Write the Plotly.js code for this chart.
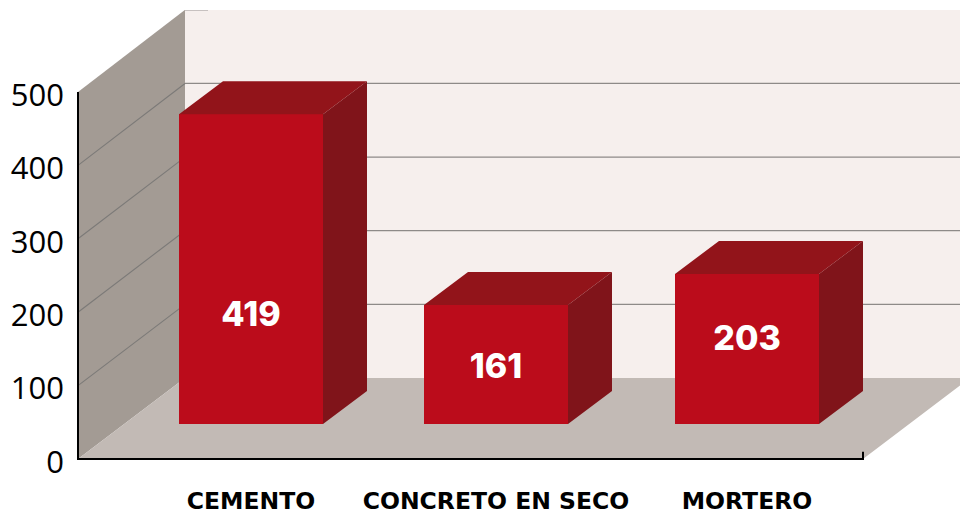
<!DOCTYPE html>
<html>
<head>
<meta charset="utf-8">
<script src="https://cdn.plot.ly/plotly-3.0.1.min.js"></script>
<style>html,body{margin:0;padding:0;background:#fff}</style>
</head>
<body>
<div id="chart" style="width:960px;height:510px"></div>
<script>
// Data
const categories = ["CEMENTO", "CONCRETO EN SECO", "MORTERO"];
const values = [419, 161, 203];
const yTicks = [0, 100, 200, 300, 400, 500];

// Layout constants (x axis is in px-sized units from the origin)
const barCentres = [173, 418, 669];
const barWidth = 144;
const labelHeights = [144, 74, 111];   // vertical place of each value label, bar scale
const barDepthX = 44, barDepthY = 44.65;
const wallDepthX = 107, wallDepthY = 110.4, backScale = 1.003;
const axisEnd = 785, floorRight = 900;

const C = {wall:"#f6efed", side:"#a39b94", floor:"#c2bab5", grid:"#8e8a88", sideGrid:"#7c7a78",
           front:"#bb0c1b", top:"#92141a", right:"#80141a", axis:"#000000"};

const poly = pts => "M" + pts.map(p => p[0] + "," + p[1]).join(" L") + " Z";
const backY = v => v * backScale + wallDepthY;
const wallTop = backY(500);

const shapes = [];
const addPoly = (pts, color) => shapes.push({type:"path", xref:"x", yref:"y", layer:"below",
  path: poly(pts), fillcolor: color, line:{width:0}});
const addLine = (x0, y0, x1, y1, color, w) => shapes.push({type:"line", xref:"x", yref:"y", layer:"below",
  x0, y0, x1, y1, line:{color, width:w}});

addPoly([[wallDepthX, backY(0)], [floorRight, backY(0)], [floorRight, wallTop], [wallDepthX, wallTop]], C.wall);
addPoly([[0, 0], [wallDepthX, backY(0)], [wallDepthX, wallTop], [0, 500]], C.side);
addPoly([[0, 0], [wallDepthX, backY(0)], [floorRight, backY(0)], [axisEnd + wallDepthX, backY(0)], [axisEnd, 0]], C.floor);
yTicks.slice(1, 5).forEach(v => {
  addLine(0, v, wallDepthX, backY(v), C.sideGrid, 1.1);
  addLine(wallDepthX, backY(v), floorRight, backY(v), C.grid, 1.2);
});
addLine(wallDepthX, wallTop, wallDepthX + 23, wallTop, C.grid, 1.2);
addLine(0, 0, 0, 500, C.axis, 2);
addLine(-1, 0, axisEnd + 1, 0, C.axis, 2);
addLine(axisEnd, 0, axisEnd, 10, C.axis, 2);

// 3D faces computed from the values
const topX = [], topY = [], sideX = [], sideY = [];
values.forEach((v, i) => {
  const l = barCentres[i] - barWidth / 2, r = barCentres[i] + barWidth / 2;
  topX.push(l, r, r + barDepthX, l + barDepthX, l, null);
  topY.push(v, v, v + barDepthY, v + barDepthY, v, null);
  sideX.push(r, r + barDepthX, r + barDepthX, r, r, null);
  sideY.push(0, barDepthY, v + barDepthY, v, 0, null);
});

const traces = [
  {type:"bar", x:barCentres, y:values, width:barWidth, yaxis:"y2", marker:{color:C.front, line:{width:0}},
   hoverinfo:"skip", showlegend:false},
  {type:"scatter", mode:"lines", x:topX, y:topY, yaxis:"y2", fill:"toself", fillcolor:C.top,
   line:{width:0, color:C.top}, hoverinfo:"skip", showlegend:false},
  {type:"scatter", mode:"lines", x:sideX, y:sideY, yaxis:"y2", fill:"toself", fillcolor:C.right,
   line:{width:0, color:C.right}, hoverinfo:"skip", showlegend:false},
  {type:"scatter", mode:"text", x:barCentres, y:labelHeights, yaxis:"y2", text:values.map(String),
   textposition:"middle center", textfont:{family:"Inter, sans-serif", size:34, color:"#ffffff", weight:800},
   hoverinfo:"skip", showlegend:false},
  // carrier so the tick-label axis is drawn
  {type:"scatter", mode:"markers", x:yTicks.map(() => 0), y:yTicks, yaxis:"y3", opacity:0,
   marker:{size:1}, hoverinfo:"skip", showlegend:false}
];

const layout = {
  width:960, height:510, autosize:false,
  margin:{l:70, r:0, t:10, b:40, pad:0},
  paper_bgcolor:"#ffffff", plot_bgcolor:"rgba(0,0,0,0)",
  showlegend:false, bargap:0, shapes,
  xaxis:{range:[-8, 882], showgrid:false, zeroline:false, showline:false, ticks:"",
    tickmode:"array", tickvals:barCentres, ticktext:categories, ticklabelstandoff:14,
    tickfont:{family:"DejaVu Sans, sans-serif", size:23.5, color:"#000000", weight:700}},
  yaxis:{range:[-15, 611.7], showgrid:false, zeroline:false, showline:false, ticks:"", showticklabels:false},
  yaxis2:{range:[-62.25, 560.2], overlaying:"y", visible:false, showgrid:false, zeroline:false},
  yaxis3:{range:[-10.91, 615.79], overlaying:"y", side:"left", showgrid:false, zeroline:false, showline:false, ticks:"",
    tickmode:"array", tickvals:yTicks, ticktext:yTicks.map(String), ticklabelstandoff:5,
    tickfont:{family:"Open Sans, sans-serif", size:31, color:"#000000"}}
};

Plotly.newPlot("chart", traces, layout, {displayModeBar:false, staticPlot:true});
</script>
</body>
</html>
